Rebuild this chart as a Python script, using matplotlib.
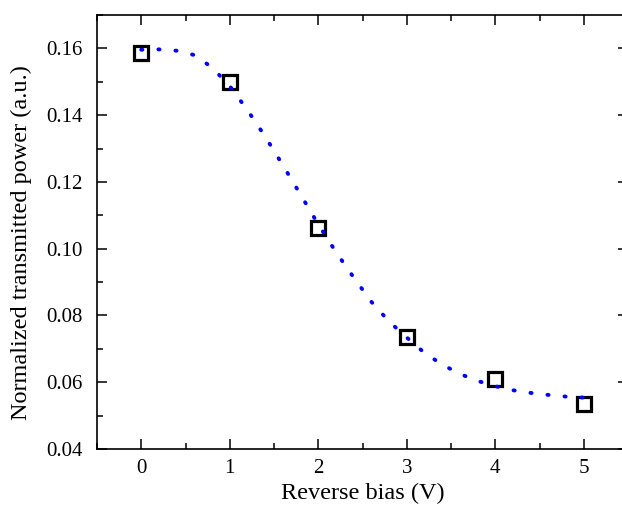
import matplotlib
matplotlib.use('Agg')
import matplotlib.pyplot as plt
from matplotlib.ticker import MultipleLocator

plt.rcParams.update({
    'font.family': 'Liberation Serif',
    'mathtext.fontset': 'stix',
    'font.size': 15,
})

# measured points
bias = [0, 1, 2, 3, 4, 5]
power = [0.1585, 0.1498, 0.1063, 0.0736, 0.0610, 0.0535]

# fitted curve
fit_bias = [0.0, 0.2, 0.4, 0.6, 0.8, 1.0, 1.2, 1.4, 1.6, 1.8, 2.0, 2.2, 2.4,
            2.6, 2.8, 3.0, 3.2, 3.4, 3.6, 3.8, 4.0, 4.2, 4.4, 4.6, 4.8, 5.0]
fit_power = [0.1596, 0.1597, 0.1593, 0.1580, 0.1543, 0.1487, 0.1415, 0.1336,
             0.1250, 0.1162, 0.1073, 0.0990, 0.0914, 0.0841, 0.0782, 0.0734,
             0.0688, 0.0653, 0.0625, 0.0604, 0.0588, 0.0576, 0.0568, 0.0562,
             0.0557, 0.0554]

fig = plt.figure(figsize=(6.22, 5.05), dpi=100)
ax = fig.add_axes([97 / 622, 1 - 449 / 505, 531 / 622, 434 / 505])

ax.plot(bias, power, linestyle='none', marker='s', markersize=10,
        markerfacecolor='white', markeredgecolor='black', markeredgewidth=2.3,
        zorder=2)
ax.plot(fit_bias, fit_power, color='#0000ff', linewidth=2.8,
        dashes=(0.3, 4.1), dash_capstyle='round', zorder=3)

ax.set_xlim(-0.5, 5.5)
ax.set_ylim(0.04, 0.17)
ax.xaxis.set_major_locator(MultipleLocator(1))
ax.xaxis.set_minor_locator(MultipleLocator(0.5))
ax.yaxis.set_major_locator(MultipleLocator(0.02))
ax.yaxis.set_minor_locator(MultipleLocator(0.01))
ax.yaxis.set_major_formatter(plt.FuncFormatter(lambda v, p: f"{v:.2f}"))

ax.tick_params(which='both', direction='in', top=True, right=True, width=1.1,
               labelsize=15)
ax.tick_params(which='major', length=7)
ax.tick_params(which='minor', length=4)
ax.tick_params(axis='x', which='major', pad=7)
ax.tick_params(axis='y', which='major', pad=10)
for s in ax.spines.values():
    s.set_linewidth(1.2)

ax.set_xlabel('Reverse bias (V)', fontsize=17.5, labelpad=4)
ax.set_ylabel('Normalized transmitted power (a.u.)', fontsize=17.5)
ax.yaxis.set_label_coords(-65 / 531, (449 - 243) / 434)

fig.savefig('out.png', dpi=100)
